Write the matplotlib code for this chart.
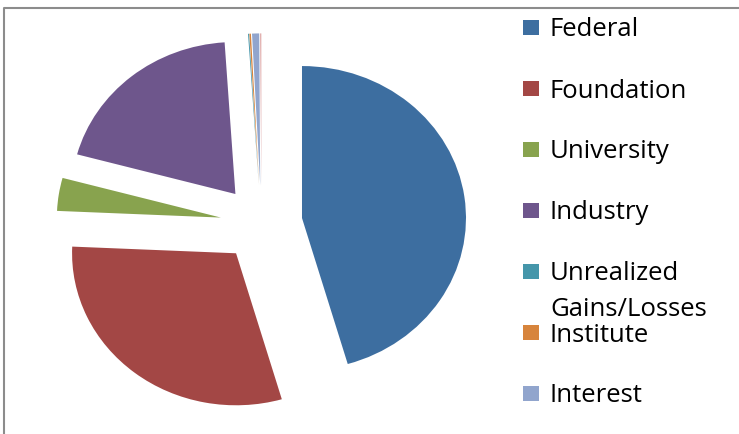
import matplotlib.pyplot as plt
from matplotlib.patches import Rectangle
from matplotlib.lines import Line2D

# data (percent of total)
labels = ["Federal", "Foundation", "University", "Industry",
          "Unrealized\nGains/Losses", "Institute", "Interest", ""]
shares = [45.5, 30.2, 3.5, 19.75, 0.1, 0.15, 0.7, 0.1]
colors = ["#3d6ea0", "#a34745", "#88a34e", "#6e568c",
          "#4596aa", "#d7843c", "#91a5cd", "#d99694"]

W, H = 739, 434
fig = plt.figure(figsize=(W / 100, H / 100), dpi=100)
ax = fig.add_axes([0, 0, 1, 1])

ax.pie(shares, colors=colors, startangle=90, counterclock=False,
       explode=[0.25] * len(shares), wedgeprops=dict(linewidth=0))

# pie is a bit wider than tall in the original
cx, cy, rx, ry = 261.4, 223.4, 164, 152
ax.set_aspect("auto")
ax.set_xlim(-cx / rx, (W - cx) / rx)
ax.set_ylim(-(H - cy) / ry, cy / ry)
ax.axis("off")

# chart border, only top and left are visible
fig.add_artist(Line2D([4 / W, 4 / W, 1], [0, 1 - 8 / H, 1 - 8 / H],
                      transform=fig.transFigure, color="#8c8c8c", lw=1.5))

# legend
for i, lab in enumerate(labels[:7]):
    yc = 27.5 + 61 * i
    fig.add_artist(Rectangle((523 / W, 1 - (yc + 7.5) / H), 16 / W, 15 / H,
                             transform=fig.transFigure, color=colors[i], lw=0))
    for j, line in enumerate(lab.split("\n")):
        fig.text(550 / W, 1 - (yc + 9 + 35 * j) / H, line, fontsize=18.5,
                 family="Open Sans", va="baseline")

fig.savefig("out.png", dpi=100)
